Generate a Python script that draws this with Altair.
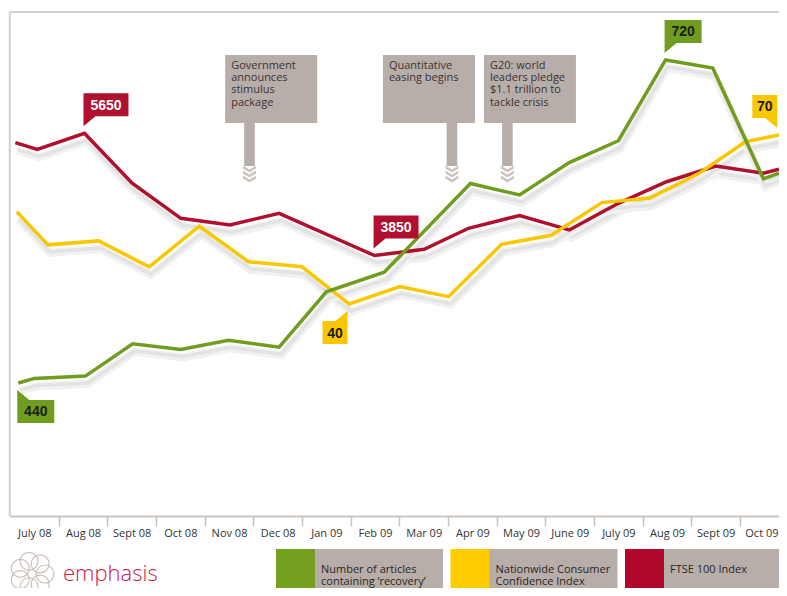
import math
import altair as alt
import pandas as pd

# ---------------- data ----------------
months = ["July 08", "Aug 08", "Sept 08", "Oct 08", "Nov 08", "Dec 08", "Jan 09", "Feb 09",
          "Mar 09", "Apr 09", "May 09", "June 09", "July 09", "Aug 09", "Sept 09", "Oct 09"]

# month index (0 = July 08), fractional where the vertex sits between labels
green_pos = [-0.33, 0.0, 1.05, 2.02, 3.01, 3.99, 5.03, 6.0, 7.19, 8.96, 9.97, 10.99, 12.0, 12.97, 13.94, 14.98, 15.3]
green_val = [440, 444, 446, 474, 469, 477, 471, 519, 536, 613, 603, 631, 650, 720, 713, 617, 622]

yellow_pos = [-0.36, 0.28, 1.32, 2.36, 3.39, 4.40, 5.50, 6.47, 7.51, 8.51, 9.60, 10.62, 11.66, 12.65, 13.66, 14.61, 15.3]
yellow_val = [56.4, 50.5, 51.2, 46.6, 53.8, 47.5, 46.6, 40.0, 43.1, 41.3, 50.6, 52.2, 58.0, 58.8, 63.2, 68.8, 70.0]

red_pos = [-0.39, 0.06, 1.03, 2.01, 3.01, 4.02, 5.03, 6.99, 8.01, 8.92, 9.97, 10.99, 12.0, 12.99, 14.0, 14.98, 15.3]
red_val = [5512, 5414, 5650, 4914, 4398, 4299, 4472, 3850, 3941, 4251, 4439, 4226, 4619, 4937, 5168, 5061, 5120]

callout_series = ["red", "red", "green", "green", "yellow", "yellow"]
callout_pos = [1.03, 6.99, -0.33, 12.97, 6.47, 15.3]
callout_val = [5650, 3850, 440, 720, 40, 70]
callout_text = ["5650", "3850", "440", "720", "40", "70"]

event_pos = [4.42, 8.58, 9.72]
event_text = ["Government\nannounces\nstimulus\npackage",
              "Quantitative\neasing begins",
              "G20: world\nleaders pledge\n$1.1 trillion to\ntackle crisis"]

legend_series = ["green", "yellow", "red"]
legend_labels = ["Number of articles\ncontaining \u2018recovery\u2019",
                 "Nationwide Consumer\nConfidence Index",
                 "FTSE 100 Index"]

# ---------------- styling ----------------
POS = {"green": green_pos, "yellow": yellow_pos, "red": red_pos}
VAL = {"green": green_val, "yellow": yellow_val, "red": red_val}
LINE_COL = {"green": "#6e9d1f", "yellow": "#f8c700", "red": "#b10f2e"}
SWATCH = {"green": "#74a11f", "yellow": "#ffcc00", "red": "#b0082b"}
CALL_TXT = {"green": "#1b1b1b", "yellow": "#1b1b1b", "red": "#ffffff"}
DOM = {"green": [324.7, 761.6], "yellow": [2.37, 91.83], "red": [13, 7437]}
CALL_KIND = {"5650": "ur", "3850": "ur", "440": "dr", "720": "ur", "40": "dl", "70": "ul"}
EVENT_LEFT = [-24.3, -69.0, -23.5]
GREY = "#b8aea9"
FONT = "Open Sans"

W, H = 769, 504
XDOM = [-0.5, 15.3]
half = W / (XDOM[1] - XDOM[0]) / 2
last = len(months) - 1

label_expr = "[" + ",".join("'%s'" % m for m in months) + "][datum.value]"
xaxis = alt.Axis(values=list(range(len(months))), labelExpr=label_expr,
                 tickOffset=-half,
                 labelOffset={"condition": {"test": f"datum.value == {last}", "value": half - 3},
                              "value": half},
                 tickSize=10, tickWidth=1.5,
                 tickColor="#cbc3be", domainColor="#cbc3be", domainWidth=2,
                 labelFont=FONT, labelFontSize=11, labelColor="#333333", labelPadding=1,
                 labelFlush=False, labelOverlap=False, labelBound=False, grid=False,
                 tickOpacity={"condition": {"test": "datum.value == 0", "value": 0}, "value": 1})
XSCALE = alt.Scale(domain=XDOM, nice=False, zero=False)


def X(field="x"):
    return alt.X(f"{field}:Q", scale=XSCALE, axis=xaxis, title=None)


def Y(name):
    return alt.Y("v:Q", scale=alt.Scale(domain=DOM[name], nice=False, zero=False), axis=None)


one = pd.DataFrame({"a": [0]})
layers = []

# frame lines (top and left)
layers.append(alt.Chart(one).mark_rule(color="#d6cec9", strokeWidth=2).encode(y=alt.value(0)))
layers.append(alt.Chart(one).mark_rule(color="#d6cec9", strokeWidth=1.5).encode(x=alt.value(-0.5)))

# event boxes
for i, (p, t) in enumerate(zip(event_pos, event_text)):
    L = EVENT_LEFT[i]
    box = f"M{L},0H{L + 92}V68H{L}Z M-5.3,68H5.3V111H-5.3Z"
    chev = " ".join(
        f"M-6.5,{y0}L0,{y0 + 4}L6.5,{y0}L6.5,{y0 + 3}L0,{y0 + 7}L-6.5,{y0 + 3}Z"
        for y0 in (110.5, 115.5, 120.5))
    df = pd.DataFrame({"x": [p], "t": [t]})
    layers.append(alt.Chart(df).mark_point(shape=box, size=4, filled=True, color=GREY,
                                           opacity=1, strokeWidth=0)
                  .encode(x=X(), y=alt.value(43)))
    layers.append(alt.Chart(df).mark_point(shape=chev, size=4, filled=True, color="#cdc5c0",
                                           opacity=1, strokeWidth=0)
                  .encode(x=X(), y=alt.value(43)))
    layers.append(alt.Chart(df).mark_text(align="left", baseline="top", dx=L + 6, dy=5,
                                          lineBreak="\n", lineHeight=12.2, font=FONT,
                                          fontSize=11, color="#3b3331")
                  .encode(x=X(), y=alt.value(43), text="t:N"))

# shadows
for name in ["red", "yellow", "green"]:
    df = pd.DataFrame({"x": POS[name], "v": VAL[name]})
    layers.append(alt.Chart(df).mark_line(color="#f1f1f1", strokeWidth=8, xOffset=2, yOffset=8)
                  .encode(x=X(), y=Y(name)))
    layers.append(alt.Chart(df).mark_line(color="#e3e3e3", strokeWidth=3.5, xOffset=2, yOffset=7)
                  .encode(x=X(), y=Y(name)))

# lines
for name in ["red", "yellow", "green"]:
    df = pd.DataFrame({"x": POS[name], "v": VAL[name]})
    layers.append(alt.Chart(df).mark_line(color=LINE_COL[name], strokeWidth=3.5)
                  .encode(x=X(), y=Y(name)))

# callouts
for s, p, v, t in zip(callout_series, callout_pos, callout_val, callout_text):
    kind = CALL_KIND[t]
    w = {2: 25, 3: 37, 4: 45}[len(t)]
    a = -1 if kind in ("ur", "dr") else -(w + 1.7)
    if kind == "ur":
        path = f"M{a},-40H{a + w}V-17H{a + 12}L{a},-7Z"
        cy = -28.5
    elif kind == "ul":
        path = f"M{a},-40H{a + w}V-7L{a + w - 12},-17H{a}Z"
        cy = -28.5
    elif kind == "dr":
        path = f"M{a},7L{a + 12},17H{a + w}V40H{a}Z"
        cy = 28.5
    else:
        path = f"M{a + w},7V40H{a}V17H{a + w - 12}Z"
        cy = 28.5
    df = pd.DataFrame({"x": [p], "v": [v], "t": [t]})
    layers.append(alt.Chart(df).mark_point(shape=path, size=4, filled=True, color=LINE_COL[s],
                                           opacity=1, strokeWidth=0)
                  .encode(x=X(), y=Y(s)))
    layers.append(alt.Chart(df).mark_text(align="center", baseline="middle", dx=a + w / 2,
                                          dy=cy + 1, font="Liberation Sans", fontWeight="bold",
                                          fontSize=14, color=CALL_TXT[s])
                  .encode(x=X(), y=Y(s), text="t:N"))

# legend
for i, (s, lab) in enumerate(zip(legend_series, legend_labels)):
    x0 = 266 + 174.5 * i
    layers.append(alt.Chart(one).mark_rect(color=GREY).encode(
        x=alt.value(x0 + 38), x2=alt.value(min(x0 + 167, W)), y=alt.value(537), y2=alt.value(576)))
    layers.append(alt.Chart(one).mark_rect(color=SWATCH[s]).encode(
        x=alt.value(x0), x2=alt.value(x0 + 39), y=alt.value(537), y2=alt.value(576)))
    layers.append(alt.Chart(one).mark_text(align="left", baseline="middle", lineBreak="\n",
                                           lineHeight=12.3, font=FONT, fontSize=11,
                                           color="#2a2523")
                  .encode(x=alt.value(x0 + 45), y=alt.value(558), text=alt.value(lab)))

# logo
ring = []
for k in range(7):
    ang = 2 * math.pi * k / 7
    cx, cy = 13 * math.cos(ang), 13 * math.sin(ang)
    r = 9
    ring.append(f"M{cx - r:.2f},{cy:.2f}a{r},{r} 0 1,0 {2 * r},0a{r},{r} 0 1,0 {-2 * r},0")
layers.append(alt.Chart(one).mark_point(shape=" ".join(ring), size=4, filled=False,
                                        stroke="#cbc2bd", strokeWidth=1.2, opacity=1)
              .encode(x=alt.value(22), y=alt.value(562)))
layers.append(alt.Chart(one).mark_text(align="left", baseline="alphabetic", font=FONT,
                                       fontSize=22, fontWeight=300, color="#cc1845")
              .encode(x=alt.value(53), y=alt.value(569), text=alt.value("emphasis")))

chart = (alt.layer(*layers)
         .resolve_scale(y="independent")
         .properties(width=W, height=H,
                     padding={"left": 2, "top": 4, "right": 0, "bottom": 72},
                     autosize=alt.AutoSizeParams(type="none"))
         .configure_view(stroke=None)
         .configure(background="white"))

chart.save("out.html", embed_options={"renderer": "svg", "actions": False})
